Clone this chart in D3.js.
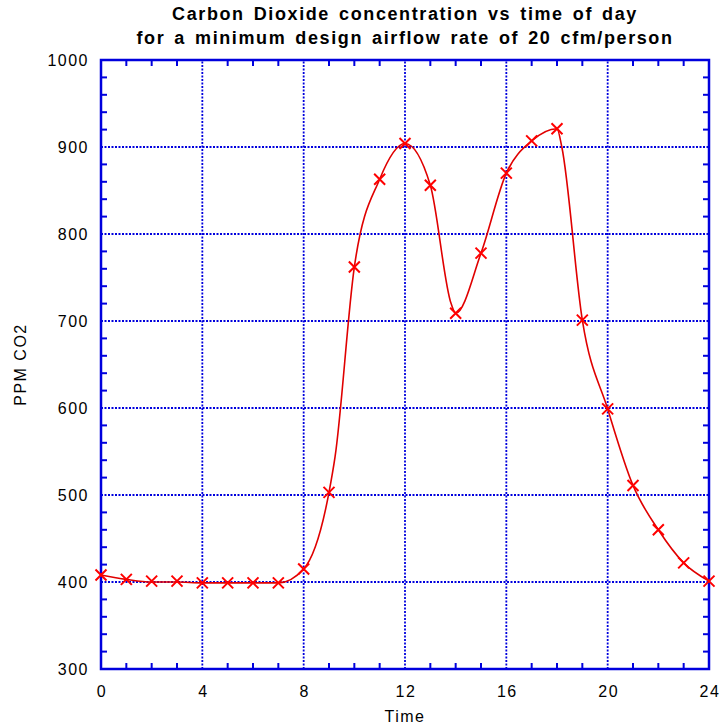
<!DOCTYPE html>
<html>
<head>
<meta charset="utf-8">
<script src="https://cdn.jsdelivr.net/npm/d3@7"></script>
<style>
  body { margin: 0; background: #fff; }
  text { font-family: "Liberation Sans", Arial, sans-serif; fill: #000; }
</style>
</head>
<body>
<div id="chart"></div>
<script>
// measured points (markers)
var hours = [0, 1, 2, 3, 4, 5, 6, 7, 8, 9, 10, 11, 12, 13, 14, 15, 16, 17, 18, 19, 20, 21, 22, 23, 24];
var ppm = [408, 403, 401, 401, 399, 399, 399, 399, 415, 503, 762, 863, 904, 856, 709, 778, 870, 907, 921, 701, 599, 511, 460, 422, 401];

// smoothed curve drawn through the markers (extra points)
var curveHours = [0, 1, 2, 3, 4, 5, 6, 7, 8, 9, 9.24, 10, 11, 12, 13, 13.82, 14, 15, 16, 17, 18, 18.19, 19, 20, 21, 22, 23, 24];
var curvePpm = [408, 403, 400, 400, 399, 399, 399, 399, 415, 503, 544, 762, 863, 904, 856, 720, 709, 778, 870, 907, 921, 900, 701, 599, 511, 460, 422, 401];

var xTicks = [0, 4, 8, 12, 16, 20, 24];
var yTicks = [300, 400, 500, 600, 700, 800, 900, 1000];
var titleLines = ["Carbon Dioxide concentration vs time of day",
                  "for a minimum design airflow rate of 20 cfm/person"];

var width = 719, height = 727;
var margin = {left: 101, right: 10, top: 60, bottom: 58};
var blue = "#0000dd";

var svg = d3.select("#chart").append("svg")
    .attr("width", width)
    .attr("height", height);

var x = d3.scaleLinear().domain([0, 24]).range([margin.left, width - margin.right]);
var y = d3.scaleLinear().domain([300, 1000]).range([height - margin.bottom, margin.top]);

// grid
svg.append("g").selectAll("line")
    .data(xTicks.slice(1, -1)).enter().append("line")
    .attr("x1", d => x(d)).attr("x2", d => x(d))
    .attr("y1", y(300)).attr("y2", y(1000))
    .attr("stroke", blue).attr("stroke-width", 1.8)
    .attr("stroke-dasharray", "2,1.5");

svg.append("g").selectAll("line")
    .data(yTicks.slice(1, -1)).enter().append("line")
    .attr("y1", d => y(d)).attr("y2", d => y(d))
    .attr("x1", x(0)).attr("x2", x(24))
    .attr("stroke", blue).attr("stroke-width", 1.8)
    .attr("stroke-dasharray", "2,1.5");

// minor ticks on all four sides
var xMinor = d3.range(1, 24);
var yMinor = d3.range(320, 1000, 20);
var tk = svg.append("g").attr("stroke", blue).attr("stroke-width", 2);
xMinor.forEach(function(d) {
    if (d % 4 === 0) return;
    tk.append("line").attr("x1", x(d)).attr("x2", x(d)).attr("y1", y(300)).attr("y2", y(300) - 6);
    tk.append("line").attr("x1", x(d)).attr("x2", x(d)).attr("y1", y(1000)).attr("y2", y(1000) + 6);
});
yMinor.forEach(function(d) {
    if (d % 100 === 0) return;
    tk.append("line").attr("y1", y(d)).attr("y2", y(d)).attr("x1", x(0)).attr("x2", x(0) + 6);
    tk.append("line").attr("y1", y(d)).attr("y2", y(d)).attr("x1", x(24)).attr("x2", x(24) - 6);
});

// frame
svg.append("rect")
    .attr("x", x(0)).attr("y", y(1000))
    .attr("width", x(24) - x(0)).attr("height", y(300) - y(1000))
    .attr("fill", "none").attr("stroke", blue).attr("stroke-width", 2.5);

// tick labels
svg.append("g").selectAll("text")
    .data(xTicks).enter().append("text")
    .attr("x", d => x(d) + 1).attr("y", y(300) + 28)
    .attr("text-anchor", "middle")
    .style("font-size", "16px")
    .style("letter-spacing", "1.5px")
    .text(d => d);

svg.append("g").selectAll("text")
    .data(yTicks).enter().append("text")
    .attr("x", x(0) - 12).attr("y", d => y(d) + 6)
    .attr("text-anchor", "end")
    .style("font-size", "16px")
    .style("letter-spacing", "1.5px")
    .text(d => d);

// axis titles
svg.append("text")
    .attr("x", (x(0) + x(24)) / 2).attr("y", 722)
    .attr("text-anchor", "middle")
    .style("font-size", "16px")
    .style("letter-spacing", "1.5px")
    .text("Time");

svg.append("text")
    .attr("transform", "translate(26," + ((y(300) + y(1000)) / 2) + ") rotate(-90)")
    .attr("text-anchor", "middle")
    .style("font-size", "16px")
    .style("letter-spacing", "1.5px")
    .text("PPM CO2");

// title
svg.append("g").selectAll("text")
    .data(titleLines).enter().append("text")
    .attr("x", (x(0) + x(24)) / 2)
    .attr("y", (d, i) => 20 + i * 24)
    .attr("text-anchor", "middle")
    .style("font-size", "18px")
    .style("font-weight", "bold")
    .style("letter-spacing", "1.6px")
    .style("word-spacing", "2.5px")
    .text(d => d);

// curve
var curvePts = curveHours.map((h, i) => [h, curvePpm[i]]);
var line = d3.line()
    .x(d => x(d[0]))
    .y(d => y(d[1]))
    .curve(d3.curveMonotoneX);

svg.append("path")
    .datum(curvePts)
    .attr("d", line)
    .attr("fill", "none")
    .attr("stroke", "#e00000")
    .attr("stroke-width", 1.6);

// markers
var s = 5.5;
var marks = svg.append("g").attr("stroke", "#ff0000").attr("stroke-width", 2);
hours.forEach(function(h, i) {
    var cx = x(h), cy = y(ppm[i]);
    marks.append("path")
        .attr("d", "M" + (cx - s) + "," + (cy - s) + "L" + (cx + s) + "," + (cy + s) +
                   "M" + (cx - s) + "," + (cy + s) + "L" + (cx + s) + "," + (cy - s));
});
</script>
</body>
</html>
